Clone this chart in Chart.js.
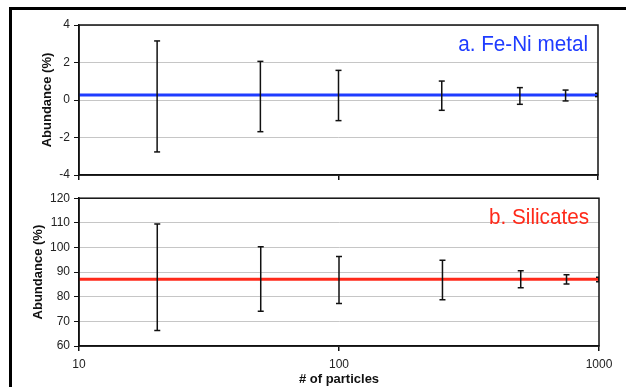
<!DOCTYPE html>
<html>
<head>
<meta charset="utf-8">
<script src="https://cdn.jsdelivr.net/npm/chart.js@4.4.1/dist/chart.umd.min.js"></script>
<style>
  body { margin: 0; background: #fff; width: 626px; height: 387px; overflow: hidden; position: relative; }
  #frame { position: absolute; left: 9px; top: 7px; width: 640px; height: 400px; border-top: 3px solid #000; border-left: 3px solid #000; }
  .box { position: absolute; left: 0; width: 626px; }
  #boxTop { top: 0; height: 187px; }
  #boxBot { top: 187px; height: 200px; }
</style>
</head>
<body>
<div id="frame"></div>
<div class="box" id="boxTop"><canvas id="metalChart"></canvas></div>
<div class="box" id="boxBot"><canvas id="silChart"></canvas></div>
<script>
var particles = [20, 50, 100, 250, 500, 750, 1000];
var xTicks = [10, 100, 1000];

// a. Fe-Ni metal
var metalMean = 0.27;
var metalLow = [-2.77, -1.69, -1.10, -0.55, -0.23, -0.05, 0.18];
var metalHigh = [3.15, 2.06, 1.58, 1.01, 0.66, 0.53, 0.36];

// b. Silicates
var silMean = 87.1;
var silLow = [66.3, 74.1, 77.3, 78.8, 83.6, 85.2, 86.1];
var silHigh = [109.5, 100.3, 96.3, 94.8, 90.5, 88.9, 87.9];

Chart.defaults.font.family = "'Liberation Sans', Arial, sans-serif";
Chart.defaults.color = '#222';

var boxPlugin = {
     id: 'boxPlugin',
     afterDraw: function(chart, args, opts) {
          var ctx = chart.ctx, a = chart.chartArea;
          ctx.save();
          ctx.strokeStyle = '#111';
          ctx.lineWidth = 1.5;
          ctx.strokeRect(a.left, a.top, a.right - a.left, a.bottom - a.top);
          // panel label, slightly condensed like the original
          ctx.translate(a.right - 10, a.top + 26);
          ctx.scale(0.94, 1);
          ctx.font = '22px "Liberation Sans", Arial, sans-serif';
          ctx.fillStyle = opts.color;
          ctx.textAlign = 'right';
          ctx.textBaseline = 'alphabetic';
          ctx.fillText(opts.text, 0, 0);
          ctx.restore();
     }
};

function panel(idName, mean, low, high, color, label, yMin, yMax, step, showX, pad) {
     var datasets = [{
          data: [{x: 10, y: mean}, {x: 1000, y: mean}],
          borderColor: color,
          borderWidth: 3,
          pointRadius: 0,
          order: 2
     }];
     particles.forEach(function(p, i) {
          datasets.push({
               data: [{x: p, y: low[i]}, {x: p, y: high[i]}],
               borderColor: '#111',
               borderWidth: 1.5,
               pointStyle: 'line',
               pointRadius: 3,
               pointBorderWidth: 1.5,
               pointBorderColor: '#111',
               order: 1
          });
     });

     return new Chart(idName, {
          type: 'line',
          data: { datasets: datasets },
          plugins: [boxPlugin],
          options: {
               responsive: true,
               maintainAspectRatio: false,
               animation: false,
               layout: { padding: pad },
               plugins: {
                    legend: { display: false },
                    tooltip: { enabled: false },
                    boxPlugin: { text: label, color: color }
               },
               scales: {
                    x: {
                         type: 'logarithmic',
                         min: 10,
                         max: 1000,
                         afterBuildTicks: function(scale) {
                              scale.ticks = xTicks.map(function(v) { return {value: v}; });
                         },
                         afterFit: function(scale) { scale.height = showX ? 41 : 12; },
                         grid: { drawOnChartArea: false, tickLength: 5, color: '#111', lineWidth: 1.5 },
                         border: { color: '#111', width: 1.5 },
                         ticks: {
                              display: showX,
                              padding: 6,
                              color: '#222',
                              font: { size: 12 },
                              autoSkip: false,
                              maxRotation: 0,
                              callback: function(v) { return String(v); }
                         },
                         title: {
                              display: showX,
                              text: '# of particles',
                              font: { size: 13, weight: 'bold' },
                              color: '#111',
                              padding: 0
                         }
                    },
                    y: {
                         min: yMin,
                         max: yMax,
                         ticks: { stepSize: step, padding: 4, color: '#222', font: { size: 12 } },
                         afterFit: function(scale) { scale.width = 79 - pad.left; },
                         grid: { color: '#c6c6c6', lineWidth: 1, tickLength: 5, tickColor: '#111' },
                         border: { color: '#111', width: 1.5 },
                         title: {
                              display: true,
                              text: 'Abundance (%)',
                              font: { size: 13, weight: 'bold' },
                              color: '#111',
                              padding: { top: 0, bottom: 0 }
                         }
                    }
               }
          }
     });
}

panel('metalChart', metalMean, metalLow, metalHigh, '#1f3cff', 'a. Fe-Ni metal', -4, 4, 2, false, {left: 40, right: 28, top: 25, bottom: 0});
panel('silChart', silMean, silLow, silHigh, '#ff2a1a', 'b. Silicates', 60, 120, 10, true, {left: 31, right: 27, top: 9, bottom: 0});
</script>
</body>
</html>
